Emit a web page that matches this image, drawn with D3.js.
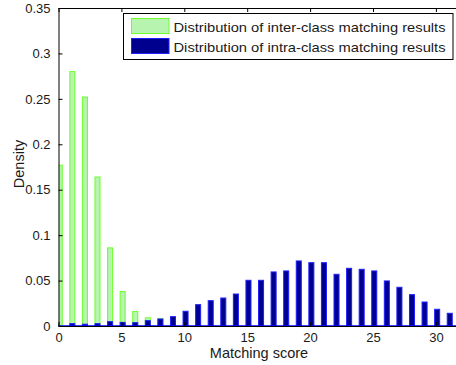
<!DOCTYPE html>
<html>
<head>
<meta charset="utf-8">
<script src="https://cdn.jsdelivr.net/npm/d3@7"></script>
<style>
  body { margin: 0; background: #fff; }
  svg { display: block; font-family: "Liberation Sans", Arial, sans-serif; }
</style>
</head>
<body>
<script>
// matching score bins
var scores = d3.range(0, 32);

// inter-class density (green)
var interDensity = [0.177, 0.280, 0.252, 0.164, 0.086, 0.038, 0.016, 0.009, 0.008, 0, 0, 0, 0, 0, 0, 0,
  0, 0, 0, 0, 0, 0, 0, 0, 0, 0, 0, 0, 0, 0, 0, 0];

// intra-class density (blue)
var intraDensity = [0, 0.0026, 0.002, 0.0026, 0.0048, 0.004, 0.0037, 0.0059, 0.0077, 0.0103, 0.0162,
  0.0235, 0.0279, 0.0308, 0.0352, 0.0503, 0.0503, 0.0595, 0.0606, 0.0716, 0.0697, 0.0697, 0.0569,
  0.0635, 0.0624, 0.0606, 0.0496, 0.0426, 0.0345, 0.0264, 0.0184, 0.014];

var xTicks = [0, 5, 10, 15, 20, 25, 30];
var yTicks = [0, 0.05, 0.1, 0.15, 0.2, 0.25, 0.3, 0.35];
var legendLabels = ["Distribution of inter-class matching results", "Distribution of intra-class matching results"];

var width = 456, height = 365;
var mLeft = 58.5, mTop = 8, mBottom = 326;

var svg = d3.select("body").append("svg")
  .attr("width", width)
  .attr("height", height);

var x = d3.scaleLinear().domain([0, 31.7]).range([mLeft, mLeft + 31.7 * 12.58]);
var y = d3.scaleLinear().domain([0, 0.35]).range([mBottom, mTop]);

svg.append("clipPath").attr("id", "plot")
  .append("rect")
  .attr("x", mLeft).attr("y", mTop)
  .attr("width", width - mLeft).attr("height", mBottom - mTop);

var bw = 0.4;
var bars = svg.append("g").attr("clip-path", "url(#plot)");

// inter-class bars
bars.selectAll(".inter")
  .data(scores.filter(function(d) { return interDensity[d] > 0; }))
  .enter()
  .append("rect")
  .attr("class", "inter")
  .attr("x", function(d) { return x(d + 0.1 - bw / 2); })
  .attr("width", x(bw) - x(0))
  .attr("y", function(d) { return y(interDensity[d]); })
  .attr("height", function(d) { return y(0) - y(interDensity[d]); })
  .style("fill", "#b6f4b0")
  .style("stroke", "#6cff2c")
  .style("stroke-width", 1);

// intra-class bars
bars.selectAll(".intra")
  .data(scores.filter(function(d) { return intraDensity[d] > 0; }))
  .enter()
  .append("rect")
  .attr("class", "intra")
  .attr("x", function(d) { return x(d + 0.1 - bw / 2); })
  .attr("width", x(bw) - x(0))
  .attr("y", function(d) { return y(intraDensity[d]); })
  .attr("height", function(d) { return y(0) - y(intraDensity[d]); })
  .style("fill", "#00008e")
  .style("stroke", "#2020ff")
  .style("stroke-width", 1);

// baseline
svg.append("line")
  .attr("x1", mLeft).attr("x2", width)
  .attr("y1", y(0)).attr("y2", y(0))
  .style("stroke", "#0000ff")
  .style("stroke-width", 1.5);

// axes
var xAxis = d3.axisBottom(x).tickValues(xTicks).tickSizeInner(-4).tickSizeOuter(0).tickPadding(7);
var xTop = d3.axisTop(x).tickValues(xTicks).tickSizeInner(-4).tickSizeOuter(0).tickFormat("");
var yAxis = d3.axisLeft(y).tickValues(yTicks).tickSizeInner(-4).tickSizeOuter(0).tickPadding(8)
  .tickFormat(d3.format("~g"));

svg.append("g").attr("transform", "translate(0," + mBottom + ")").call(xAxis);
svg.append("g").attr("transform", "translate(0," + mTop + ")").call(xTop);
svg.append("g").attr("transform", "translate(" + mLeft + ",0)").call(yAxis);

svg.selectAll(".domain").style("stroke", "#000");
svg.selectAll(".tick line").style("stroke", "#000");
svg.selectAll(".tick text")
  .style("font-size", "13px")
  .style("font-family", "Liberation Sans, Arial, sans-serif")
  .style("fill", "#1a1a1a");

// axis titles
svg.append("text")
  .attr("x", 259).attr("y", 358)
  .attr("text-anchor", "middle")
  .style("font-size", "14.5px")
  .style("fill", "#1a1a1a")
  .text("Matching score");

svg.append("text")
  .attr("transform", "translate(24,164) rotate(-90)")
  .attr("text-anchor", "middle")
  .style("font-size", "14.5px")
  .style("fill", "#1a1a1a")
  .text("Density");

// legend
var legend = svg.append("g");
legend.append("rect")
  .attr("x", 123.5).attr("y", 13.5)
  .attr("width", 329.5).attr("height", 46)
  .style("fill", "#fff")
  .style("stroke", "#000");

var swatchFill = ["#b6f4b0", "#00008e"];
var swatchStroke = ["#6cff2c", "#2020ff"];
legend.selectAll(".sw")
  .data(legendLabels)
  .enter()
  .append("rect")
  .attr("x", 131.5)
  .attr("y", function(d, i) { return 18.5 + i * 20; })
  .attr("width", 37.5)
  .attr("height", 15)
  .style("fill", function(d, i) { return swatchFill[i]; })
  .style("stroke", function(d, i) { return swatchStroke[i]; });

legend.selectAll(".lbl")
  .data(legendLabels)
  .enter()
  .append("text")
  .attr("x", 173.5)
  .attr("y", function(d, i) { return 31.5 + i * 20.5; })
  .attr("textLength", 272)
  .attr("lengthAdjust", "spacingAndGlyphs")
  .style("font-size", "13.5px")
  .style("fill", "#1a1a1a")
  .text(function(d) { return d; });
</script>
</body>
</html>
